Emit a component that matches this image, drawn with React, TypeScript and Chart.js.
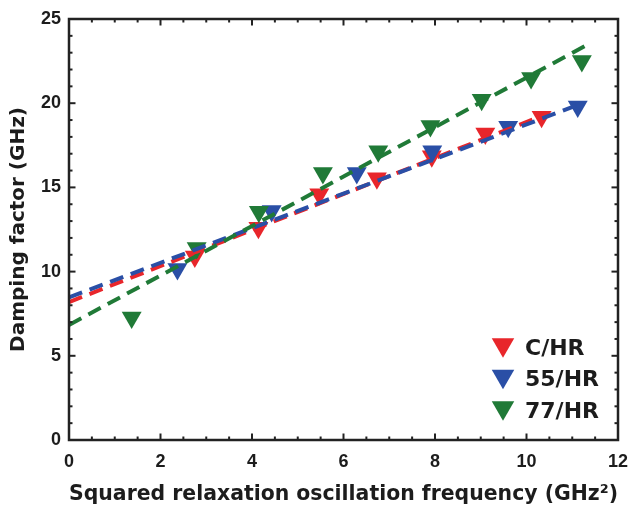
import { useEffect, useRef } from 'react';
import { Chart, registerables } from 'chart.js';

Chart.register(...registerables);

// ---- data ----
const seriesNames = ['C/HR', '55/HR', '77/HR'];
const seriesColors = ['#e8262b', '#2a4fa6', '#207a37'];

const chrX = [2.75, 4.14, 5.47, 6.73, 7.93, 9.1, 10.33];
const chrY = [10.9, 12.6, 14.6, 15.55, 16.85, 18.2, 19.2];

const hr55X = [2.37, 4.43, 6.29, 7.94, 9.6, 11.12];
const hr55Y = [10.15, 13.6, 15.85, 17.15, 18.6, 19.8];

const hr77X = [1.37, 2.79, 4.15, 5.55, 6.76, 7.9, 9.02, 10.1, 11.21];
const hr77Y = [7.28, 11.4, 13.55, 15.85, 17.15, 18.65, 20.2, 21.5, 22.5];

// fitted lines (end points)
const fitChrX = [0, 10.38];
const fitChrY = [8.19, 19.29];
const fitHr55X = [0, 11.1];
const fitHr55Y = [8.47, 19.87];
const fitHr77X = [0, 11.28];
const fitHr77Y = [6.83, 23.4];

const xTicks = [0, 2, 4, 6, 8, 10, 12];
const yTicks = [0, 5, 10, 15, 20, 25];

const xTitle = 'Squared relaxation oscillation frequency (GHz\u00B2)';
const yTitle = 'Damping factor (GHz)';

const TEXT = '#1c1c1c';
const TICK_FONT = 'Liberation Sans, Arial, sans-serif';
const TITLE_FONT = 'DejaVu Sans, sans-serif';

const pts = (xs: number[], ys: number[]) => xs.map((x, i) => ({ x, y: ys[i] }));

const framePlugin = {
  id: 'frameTicks',
  afterDatasetsDraw(chart: any) {
    const { ctx, chartArea, scales } = chart;
    const { left, right, top, bottom } = chartArea;
    const xs = scales.x;
    const ys = scales.y;
    ctx.save();
    ctx.strokeStyle = '#222';
    ctx.lineWidth = 2;
    ctx.lineCap = 'butt';
    const seg = (x1: number, y1: number, x2: number, y2: number) => {
      ctx.beginPath();
      ctx.moveTo(x1, y1);
      ctx.lineTo(x2, y2);
      ctx.stroke();
    };
    for (let v = xs.min; v <= xs.max + 1e-9; v += 0.5) {
      const px = xs.getPixelForValue(v);
      const major = Math.abs(v / 2 - Math.round(v / 2)) < 1e-6;
      const len = major ? 6.5 : 3.5;
      seg(px, bottom, px, bottom - len);
      seg(px, top, px, top + len);
    }
    for (let v = ys.min; v <= ys.max + 1e-9; v += 1) {
      const py = ys.getPixelForValue(v);
      const major = v % 5 === 0;
      const len = major ? 6.5 : 3.5;
      seg(left, py, left + len, py);
      seg(right, py, right - len, py);
    }
    ctx.lineWidth = 2.5;
    ctx.strokeRect(left, top, right - left, bottom - top);
    ctx.restore();
  },
  afterDraw(chart: any) {
    const { ctx, chartArea } = chart;
    const { right, bottom } = chartArea;
    ctx.save();
    const r = 13;
    const mx = right - 115;
    const tx = right - 93;
    const rowY = [bottom - 92, bottom - 60.5, bottom - 29];
    ctx.font = 'bold 22px ' + TITLE_FONT;
    ctx.textBaseline = 'middle';
    ctx.textAlign = 'left';
    seriesNames.forEach((name, i) => {
      const cy = rowY[i] - r / 4;
      ctx.fillStyle = seriesColors[i];
      ctx.beginPath();
      ctx.moveTo(mx - r * Math.sqrt(3) / 2, cy - r / 2);
      ctx.lineTo(mx + r * Math.sqrt(3) / 2, cy - r / 2);
      ctx.lineTo(mx, cy + r);
      ctx.closePath();
      ctx.fill();
      ctx.fillStyle = TEXT;
      ctx.fillText(name, tx, rowY[i] + 1);
    });
    ctx.restore();
  },
};

export default function App() {
  const ref = useRef<HTMLCanvasElement>(null);
  useEffect(() => {
    if (!ref.current) return;
    const lineDs = (label: string, xs: number[], ys: number[], color: string, order: number) => ({
      type: 'line' as const,
      label,
      data: pts(xs, ys),
      borderColor: color,
      backgroundColor: color,
      borderWidth: 4,
      borderDash: [14, 8],
      pointRadius: 0,
      fill: false,
      order,
    });
    const markDs = (label: string, xs: number[], ys: number[], color: string, order: number) => ({
      type: 'scatter' as const,
      label,
      data: pts(xs, ys),
      backgroundColor: color,
      borderColor: color,
      borderWidth: 0,
      pointStyle: 'triangle',
      rotation: 180,
      pointRadius: 11.5,
      pointHoverRadius: 11.5,
      order,
    });
    const chart = new Chart(ref.current, {
      type: 'scatter',
      data: {
        datasets: [
          lineDs('fit ' + seriesNames[2], fitHr77X, fitHr77Y, seriesColors[2], 1),
          lineDs('fit ' + seriesNames[1], fitHr55X, fitHr55Y, seriesColors[1], 2),
          lineDs('fit ' + seriesNames[0], fitChrX, fitChrY, seriesColors[0], 3),
          markDs(seriesNames[2], hr77X, hr77Y, seriesColors[2], 4),
          markDs(seriesNames[1], hr55X, hr55Y, seriesColors[1], 5),
          markDs(seriesNames[0], chrX, chrY, seriesColors[0], 6),
        ] as any,
      },
      options: {
        animation: false,
        responsive: true,
        maintainAspectRatio: false,
        layout: { padding: { top: 19, right: 12, left: 0, bottom: 0 } },
        plugins: {
          legend: { display: false },
          tooltip: { enabled: false },
        },
        scales: {
          x: {
            type: 'linear',
            min: 0,
            max: 12,
            afterFit: (s: any) => {
              s.height = 71;
              s.paddingLeft = 0;
              s.paddingRight = 0;
            },
            afterBuildTicks: (s: any) => {
              s.ticks = xTicks.map((v) => ({ value: v }));
            },
            grid: { display: false, drawTicks: false },
            border: { display: false },
            ticks: {
              padding: 11,
              color: TEXT,
              maxRotation: 0,
              font: { family: TICK_FONT, size: 18, weight: 'bold' },
            },
            title: {
              display: true,
              text: xTitle,
              color: TEXT,
              font: { family: TITLE_FONT, size: 21, weight: 'bold' },
              padding: { top: 0, bottom: 4 },
            },
          },
          y: {
            type: 'linear',
            min: 0,
            max: 25,
            afterFit: (s: any) => {
              s.width = 69;
              s.paddingTop = 0;
              s.paddingBottom = 0;
            },
            afterBuildTicks: (s: any) => {
              s.ticks = yTicks.map((v) => ({ value: v }));
            },
            grid: { display: false, drawTicks: false },
            border: { display: false },
            ticks: {
              padding: 8,
              color: TEXT,
              font: { family: TICK_FONT, size: 18, weight: 'bold' },
            },
            title: {
              display: true,
              text: yTitle,
              color: TEXT,
              font: { family: TITLE_FONT, size: 20, weight: 'bold' },
              padding: { top: 7, bottom: 0 },
            },
          },
        },
      } as any,
      plugins: [framePlugin],
    });
    return () => chart.destroy();
  }, []);
  return (
    <div style={{ position: 'absolute', left: 0, top: 0, width: 630, height: 511, background: '#fff' }}>
      <canvas ref={ref} />
    </div>
  );
}
